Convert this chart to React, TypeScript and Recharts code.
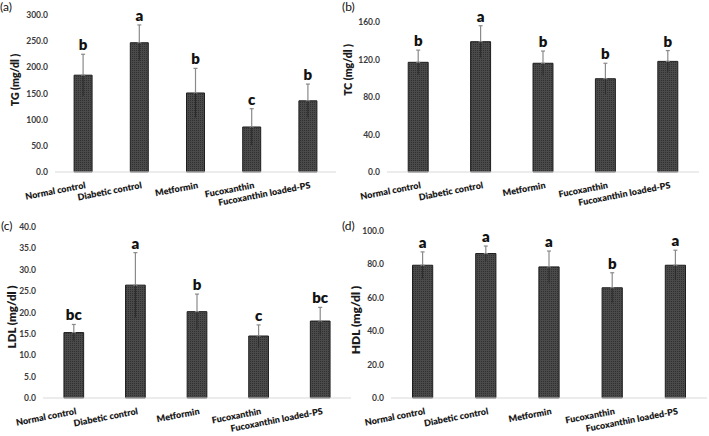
import { BarChart, Bar, XAxis, YAxis, ErrorBar, LabelList } from "recharts";

// groups on the x axis (same for all four panels)
const groups = [
  "Normal control",
  "Diabetic control",
  "Metformin",
  "Fucoxanthin",
  "Fucoxanthin loaded-PS",
];

// (a) triglycerides
const tgMean = [185, 247, 151, 86, 136];
const tgSd = [40, 34, 47, 35, 32];
const tgLetters = ["b", "a", "b", "c", "b"];
const tgTicks = [0, 50, 100, 150, 200, 250, 300];

// (b) total cholesterol
const tcMean = [117, 139, 116, 99.5, 118];
const tcSd = [13, 17, 13, 16.5, 11.5];
const tcLetters = ["b", "a", "b", "b", "b"];
const tcTicks = [0, 40, 80, 120, 160];

// (c) LDL
const ldlMean = [15.3, 26.4, 20.2, 14.5, 18.0];
const ldlSd = [1.9, 7.6, 4.1, 2.6, 3.2];
const ldlLetters = ["bc", "a", "b", "c", "bc"];
const ldlTicks = [0, 5, 10, 15, 20, 25, 30, 35, 40];

// (d) HDL
const hdlMean = [79.5, 86.5, 78.5, 66, 79.5];
const hdlSd = [8, 4.5, 9.5, 9, 9];
const hdlLetters = ["a", "a", "a", "b", "a"];
const hdlTicks = [0, 20, 40, 60, 80, 100];

const FONT = "Lato, 'Open Sans', sans-serif";

function makeRows(mean: number[], sd: number[], letters: string[]) {
  return groups.map((g, i) => ({
    name: g,
    mean: mean[i],
    sd: sd[i],
    up: [0, sd[i]],
    down: [sd[i], 0],
    letter: letters[i],
  }));
}

function XTick(props: any) {
  const { x, y, payload } = props;
  const tx = x + 3;
  const ty = y + 16;
  return (
    <text
      x={tx}
      y={ty}
      transform={`rotate(-11, ${tx}, ${ty})`}
      textAnchor="end"
      fontSize={9}
      fontWeight={800}
      fill="#1a1a1a"
      fontFamily={FONT}
    >
      {payload.value}
    </text>
  );
}

// letter above the error bar: error length in pixels from the bar's own scale
function makeLetter(mean: number[], sd: number[]) {
  return (props: any) => {
    const vb = props.viewBox || {};
    const x = Number(props.x ?? vb.x);
    const y = Number(props.y ?? vb.y);
    const w = Number(props.width ?? vb.width);
    const h = Number(props.height ?? vb.height);
    const i = props.index;
    const k = mean[i] ? h / mean[i] : 0;
    const top = y - sd[i] * k;
    return (
      <text
        x={x + w / 2}
        y={top - 4}
        textAnchor="middle"
        fontSize={15}
        fontWeight={800}
        fill="#111"
        fontFamily={FONT}
      >
        {props.value}
      </text>
    );
  };
}

interface PanelProps {
  tag: string;
  yLabel: string;
  mean: number[];
  sd: number[];
  letters: string[];
  ticks: number[];
  left: number;
  top: number;
  width: number;
  height: number;
  plotLeft: number;
  plotRight: number;
  plotTop: number;
  plotBottom: number;
  tagX: number;
  tagY: number;
  labelX: number;
  labelY: number;
  labelSize: number;
}

function Panel(p: PanelProps) {
  const data = makeRows(p.mean, p.sd, p.letters);
  return (
    <>
      <div
        style={{
          position: "absolute",
          left: p.tagX,
          top: p.tagY,
          fontSize: 12,
          lineHeight: "14px",
          fontFamily: FONT,
          color: "#111",
        }}
      >
        {p.tag}
      </div>
      <div
        style={{
          position: "absolute",
          left: p.labelX - 60,
          top: p.labelY - 7,
          width: 120,
          height: 14,
          lineHeight: "14px",
          textAlign: "center",
          transform: "rotate(-90deg)",
          fontSize: p.labelSize,
          fontWeight: 800,
          fontFamily: FONT,
          color: "#1a1a1a",
          whiteSpace: "nowrap",
        }}
      >
        {p.yLabel}
      </div>
      <div style={{ position: "absolute", left: p.left, top: p.top }}>
        <BarChart
          width={p.width}
          height={p.height}
          data={data}
          barCategoryGap="66%"
          margin={{
            top: p.plotTop,
            right: p.width - p.plotRight,
            left: 0,
            bottom: 0,
          }}
        >
          <XAxis
            dataKey="name"
            interval={0}
            height={p.height - p.plotBottom}
            tickLine={false}
            tickSize={0}
            tickMargin={0}
            axisLine={{ stroke: "#d9d9d9", strokeWidth: 1.2 }}
            tick={<XTick />}
          />
          <YAxis
            width={p.plotLeft}
            domain={[p.ticks[0], p.ticks[p.ticks.length - 1]]}
            ticks={p.ticks}
            interval={0}
            axisLine={false}
            tickLine={false}
            tickSize={0}
            tickMargin={7}
            tickFormatter={(v: number) => v.toFixed(1)}
            tick={{ fill: "#3a3a3a", fontSize: 8.5, fontWeight: 700, fontFamily: FONT }}
          />
          <Bar
            dataKey="mean"
            fill="url(#bar-dots)"
            stroke="#1e1e1e"
            strokeWidth={1}
            isAnimationActive={false}
          >
            <ErrorBar dataKey="up" width={2} stroke="#8a8a8a" strokeWidth={1.2} direction="y" />
            <ErrorBar dataKey="down" width={0} stroke="#2a2a2a" strokeWidth={1} direction="y" />
            <LabelList dataKey="letter" content={makeLetter(p.mean, p.sd)} />
          </Bar>
        </BarChart>
      </div>
    </>
  );
}

export default function App() {
  return (
    <div
      style={{
        position: "absolute",
        left: 0,
        top: 0,
        width: 709,
        height: 436,
        background: "#fff",
        overflow: "hidden",
      }}
    >
      <svg width={1} height={1} style={{ position: "absolute", left: 0, top: 0 }}>
        <defs>
          <pattern id="bar-dots" width={2} height={2} patternUnits="userSpaceOnUse">
            <rect width={2} height={2} fill="#4a4a4a" />
            <rect width={1} height={1} fill="#303030" />
          </pattern>
        </defs>
      </svg>
      <Panel
        tag="(a)" yLabel="TG (mg/dl )"
        mean={tgMean} sd={tgSd} letters={tgLetters} ticks={tgTicks}
        left={0} top={0} width={355} height={215}
        plotLeft={55} plotRight={336} plotTop={15} plotBottom={172}
        tagX={0} tagY={0} labelX={15} labelY={80} labelSize={10.5}
      />
      <Panel
        tag="(b)" yLabel="TC (mg/dl )"
        mean={tcMean} sd={tcSd} letters={tcLetters} ticks={tcTicks}
        left={335} top={0} width={374} height={215}
        plotLeft={52} plotRight={364} plotTop={22} plotBottom={172}
        tagX={342} tagY={0} labelX={348} labelY={70} labelSize={10.5}
      />
      <Panel
        tag="(c)" yLabel="LDL (mg/dl )"
        mean={ldlMean} sd={ldlSd} letters={ldlLetters} ticks={ldlTicks}
        left={0} top={215} width={355} height={221}
        plotLeft={43} plotRight={351} plotTop={12} plotBottom={183}
        tagX={1} tagY={219} labelX={12} labelY={317} labelSize={11.5}
      />
      <Panel
        tag="(d)" yLabel="HDL (mg/dl )"
        mean={hdlMean} sd={hdlSd} letters={hdlLetters} ticks={hdlTicks}
        left={335} top={215} width={374} height={221}
        plotLeft={56} plotRight={372} plotTop={16} plotBottom={183}
        tagX={342} tagY={219} labelX={356} labelY={320} labelSize={12}
      />
    </div>
  );
}
